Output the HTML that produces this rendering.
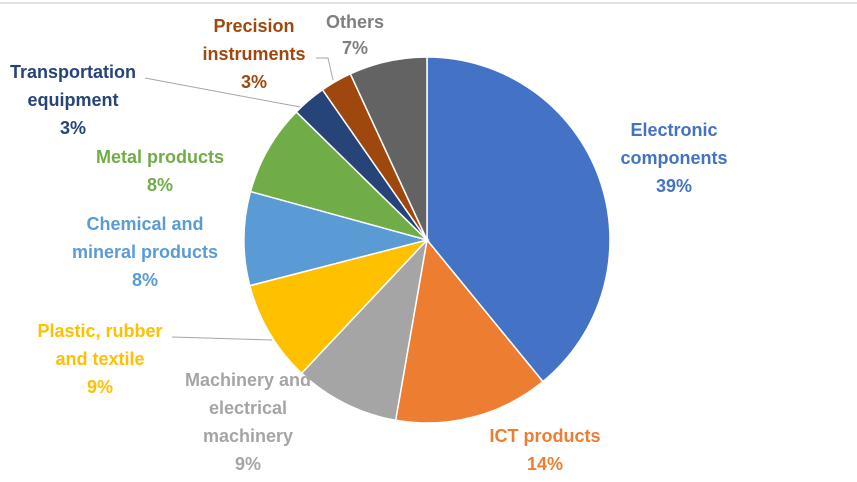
<!DOCTYPE html>
<html><head><meta charset="utf-8"><style>
html,body{margin:0;padding:0;background:#fff;width:857px;height:482px;overflow:hidden}
svg{display:block}
text{font-family:"Liberation Sans",sans-serif;font-weight:bold;font-size:18px}
</style></head><body>
<svg id="chart" width="857" height="482" xmlns="http://www.w3.org/2000/svg">
<line x1="0" y1="3" x2="857" y2="3" stroke="#d9d9d9" stroke-width="1.5"/>
<g id="slices"></g>
<g id="labels"></g>
</svg>
<script>
const categories=["Electronic components","ICT products","Machinery and electrical machinery","Plastic, rubber and textile","Chemical and mineral products","Metal products","Transportation equipment","Precision instruments","Others"];
const values=[39.2,13.7,9.3,9.0,8.3,8.1,3.0,2.8,6.9];
const colors=["#4472C4","#ED7D31","#A5A5A5","#FFC000","#5B9BD5","#70AD47","#264478","#9E480E","#636363"];
const labelLines=[["Electronic","components"],["ICT products"],["Machinery and","electrical","machinery"],["Plastic, rubber","and textile"],["Chemical and","mineral products"],["Metal products"],["Transportation","equipment"],["Precision","instruments"],["Others"]];
const labelPos=[[674,130],[545,436],[248,380],[100,331],[145,224],[160,157],[73,72],[254,26],[355,22]];
const textColors=["#4472C4","#ED7D31","#A5A5A5","#FFC000","#5B9BD5","#70AD47","#264478","#9E480E","#7f7f7f"];
const NS="http://www.w3.org/2000/svg";
const cx=427,cy=240,r=183;
const total=values.reduce((a,b)=>a+b,0);
const sg=document.getElementById('slices');
const lg=document.getElementById('labels');
function pt(a){return [cx+r*Math.sin(a),cy-r*Math.cos(a)];}
let acc=0;
values.forEach((v,i)=>{
  const a0=acc/total*2*Math.PI; acc+=v; const a1=acc/total*2*Math.PI;
  const p0=pt(a0),p1=pt(a1);
  const p=document.createElementNS(NS,'path');
  p.setAttribute('d',`M${cx},${cy}L${p0[0]},${p0[1]}A${r},${r} 0 ${a1-a0>Math.PI?1:0} 1 ${p1[0]},${p1[1]}Z`);
  p.setAttribute('fill',colors[i]);p.setAttribute('stroke','#fff');p.setAttribute('stroke-width','1.5');
  
  
  sg.appendChild(p);
  const t=document.createElementNS(NS,'text');
  t.setAttribute('text-anchor','middle');t.setAttribute('fill',textColors[i]);
  
  
  const lines=labelLines[i].concat([Math.round(v/total*100)+'%']);
  const lh=(i===8)?26:28;
  lines.forEach((s,j)=>{
    const ts=document.createElementNS(NS,'tspan');
    ts.setAttribute('x',labelPos[i][0]);ts.setAttribute('y',labelPos[i][1]+j*lh+6);
    ts.textContent=s;t.appendChild(ts);
  });
  lg.appendChild(t);
});
[["M145,78L300,107"],["M316,58L328,58L333,80"],["M172,337L272,340"]].forEach((d,i)=>{
  const l=document.createElementNS(NS,'path');
  l.setAttribute('d',d[0]);l.setAttribute('stroke','#a6a6a6');l.setAttribute('fill','none');l.setAttribute('stroke-width','1');
  
  
  lg.appendChild(l);
});
</script>
</body></html>
